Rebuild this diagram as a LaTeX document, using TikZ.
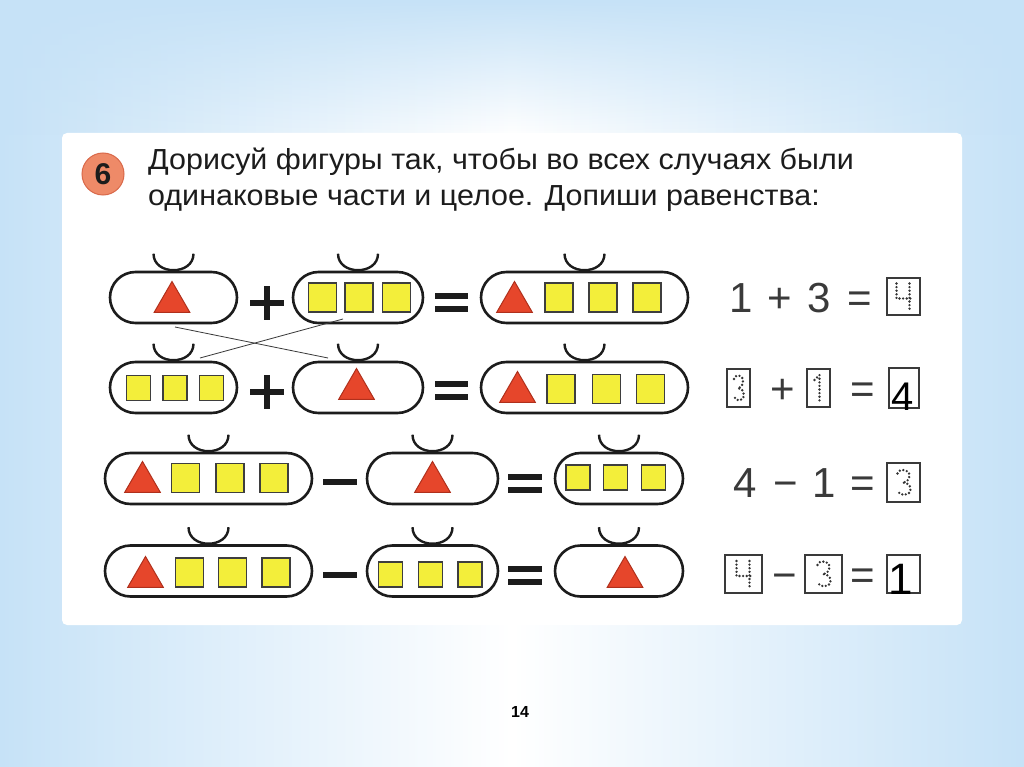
\documentclass[tikz,border=0pt]{standalone}
\usepackage{fontspec}
\setmainfont{Liberation Sans}
\newfontfamily\titlefont[FakeStretch=1.05]{Liberation Sans}
\usetikzlibrary{calc,shapes.geometric,shapes.misc,fadings}
\definecolor{bgblue}{HTML}{C6E2F7}
\definecolor{badgefill}{HTML}{EE8A68}
\definecolor{badgerim}{HTML}{D9694A}
\definecolor{trired}{HTML}{E6462B}
\definecolor{triedge}{HTML}{B0301C}
\definecolor{sqyellow}{HTML}{F3EE3A}
\definecolor{ink}{HTML}{1C1C1C}
\definecolor{printgray}{HTML}{3A3A3A}
\tikzset{
  x=1pt,y=-1pt,
  capsule/.style={rounded rectangle,draw=ink,line width=2.6pt,
    minimum height=51pt,inner sep=0pt},
  smile/.style={draw=ink,line width=2.4pt},
  tri/.style={regular polygon,regular polygon sides=3,fill=trired,
    draw=triedge,line width=1pt,minimum size=41pt,inner sep=0pt},
  sq/.style={rectangle,fill=sqyellow,draw=ink!85,line width=1.5pt,
    minimum width=28pt,minimum height=29pt,inner sep=0pt},
  sqs/.style={sq,minimum width=24pt,minimum height=25pt},
  opbar/.style={ink,line width=6pt},
  eqtxt/.style={font=\fontsize{42}{42}\selectfont,text=printgray,
    inner sep=0pt,anchor=base},
  ansbox/.style={draw=printgray,line width=1.3pt,inner sep=0pt,
    minimum width=33pt,minimum height=37pt},
  ansdig/.style={font=\fontsize{40}{40}\selectfont,text=black,
    inner sep=0pt,anchor=base},
  tracedig/.style={ink!90,line width=2.6pt,line cap=round,
    dash pattern=on 0pt off 3.6pt},
  crossline/.style={printgray,line width=0.8pt},
  titletxt/.style={anchor=base west,inner sep=0pt,text=ink,
    font=\titlefont\fontsize{29}{35}\selectfont},
}

\begin{document}
\begin{tikzpicture}
  % slide background and page
  \fill[bgblue] (0,0) rectangle (1024,767);
  \shade[left color=bgblue,right color=bgblue,middle color=white] (0,0) rectangle (1024,767);
  \fill[bgblue,path fading=south] (0,0) rectangle (1024,135);
  \fill[white,rounded corners=5pt] (62,133) rectangle (962,625);

  % task header
  \node[circle,fill=badgefill,draw=badgerim,line width=1pt,minimum size=42pt,
    inner sep=0pt,text=ink,font=\bfseries\fontsize{30}{30}\selectfont] (num) at (103,174) {6};
  \node[titletxt] (ttl1) at (148,170) {Дорисуй фигуры так, чтобы во всех случаях были};
  \node[titletxt] (ttl2) at (148,206) {одинаковые части и целое. Допиши равенства:};

  % row 1
  \node[capsule,minimum width=127pt] (c1a) at (173.5,297.5) {};
  \node[capsule,minimum width=130pt] (c1b) at (358,297.5) {};
  \node[capsule,minimum width=207pt] (c1c) at (584.5,297.5) {};
  \node[tri] (t1a) at (172,302) {};
  \foreach \x [count=\i] in {322.5,359,396.5} \node[sq] (s1b\i) at (\x,297.5) {};
  \node[tri] (t1c) at (514.5,302) {};
  \foreach \x [count=\i] in {559,603,647} \node[sq] (s1c\i) at (\x,297.5) {};
  \draw[opbar] (250,303) -- (284,303) (267,286) -- (267,320);
  \draw[opbar] (435,295.5) -- (468,295.5) (435,308.5) -- (468,308.5);

  % row 2
  \node[capsule,minimum width=127pt] (c2a) at (173.5,387.5) {};
  \node[capsule,minimum width=130pt] (c2b) at (358,387.5) {};
  \node[capsule,minimum width=207pt] (c2c) at (584.5,387.5) {};
  \foreach \x [count=\i] in {138.5,175,211.5} \node[sqs] (s2a\i) at (\x,388) {};
  \node[tri] (t2b) at (356.5,389) {};
  \node[tri] (t2c) at (517.5,392) {};
  \foreach \x [count=\i] in {561,606.5,650.5} \node[sq] (s2c\i) at (\x,389) {};
  \draw[opbar] (250,392) -- (284,392) (267,375) -- (267,409);
  \draw[opbar] (435,383.5) -- (468,383.5) (435,396.5) -- (468,396.5);

  % row 3
  \node[capsule,minimum width=207pt] (c3a) at (208.5,478.5) {};
  \node[capsule,minimum width=131pt] (c3b) at (432.5,478.5) {};
  \node[capsule,minimum width=128pt] (c3c) at (619,478.5) {};
  \node[tri] (t3a) at (142.5,482) {};
  \foreach \x [count=\i] in {185.5,230,274} \node[sq] (s3a\i) at (\x,478) {};
  \node[tri] (t3b) at (432.5,482) {};
  \foreach \x [count=\i] in {578,615.5,653.5} \node[sqs] (s3c\i) at (\x,477.5) {};
  \draw[opbar] (323,482) -- (357,482);
  \draw[opbar] (508,476.5) -- (542,476.5) (508,489.5) -- (542,489.5);

  % row 4
  \node[capsule,minimum width=207pt] (c4a) at (208.5,571) {};
  \node[capsule,minimum width=131pt] (c4b) at (432.5,571) {};
  \node[capsule,minimum width=128pt] (c4c) at (619,571) {};
  \node[tri] (t4a) at (145.5,577) {};
  \foreach \x [count=\i] in {189.5,232.5,276} \node[sq] (s4a\i) at (\x,572.5) {};
  \foreach \x [count=\i] in {390.5,430.5,470} \node[sqs] (s4b\i) at (\x,574.5) {};
  \node[tri] (t4c) at (625,577) {};
  \draw[opbar] (323,575) -- (357,575);
  \draw[opbar] (508,568.5) -- (542,568.5) (508,581.5) -- (542,581.5);

  % handles on top of every part
  \foreach \c in {c1a,c1b,c1c,c2a,c2b,c2c,c3a,c3b,c3c,c4a,c4b,c4c}
    \draw[smile] ($(\c.north)+(-20,-17)$) .. controls +(0,22) and +(0,22) .. ($(\c.north)+(20,-17)$);

  % pencil lines between rows 1 and 2
  \coordinate (xa) at (175,327);
  \coordinate (xb) at (328,358);
  \coordinate (xc) at (343,319);
  \coordinate (xd) at (200,358);
  \draw[crossline] (xa) -- (xb);
  \draw[crossline] (xc) -- (xd);

  % equalities
  \node[eqtxt] (e1a) at (741,312) {1};
  \node[eqtxt] (e1b) at (780,312) {+};
  \node[eqtxt] (e1c) at (819,312) {3};
  \node[eqtxt] (e1d) at (860,312) {=};
  \node[ansbox] (b14) at (903.5,296.5) {};
  \draw[tracedig,shift={(b14.center)}] (-7,-13) -- (-7,2) -- (7,2) (6,-13) -- (6,15);

  \node[ansbox,minimum width=23pt,minimum height=38pt] (b21) at (738.5,388) {};
  \draw[tracedig,shift={(b21.center)},xscale=0.75] (-6,-9) .. controls (-5,-14) and (6,-14) .. (6,-7)
    .. controls (6,-2) and (2,0) .. (-1,0) .. controls (3,0) and (7,2) .. (7,7)
    .. controls (7,14) and (-5,14) .. (-6,8);
  \node[eqtxt] (e2b) at (783,403) {+};
  \node[ansbox,minimum width=23pt,minimum height=38pt] (b22) at (818.5,388) {};
  \draw[tracedig,shift={(b22.center)}] (-4,-8) -- (1,-13) -- (1,14);
  \node[eqtxt] (e2d) at (863,403) {=};
  \node[ansbox,minimum width=30pt,minimum height=40pt] (b23) at (904,388) {};
  \node[ansdig] (a23) at (903,410) {4};

  \node[eqtxt] (e3a) at (745,497) {4};
  \node[eqtxt] (e3b) at (786,497) {−};
  \node[eqtxt] (e3c) at (824,497) {1};
  \node[eqtxt] (e3d) at (863,497) {=};
  \node[ansbox,minimum height=39pt] (b34) at (903.5,482.5) {};
  \draw[tracedig,shift={(b34.center)}] (-6,-9) .. controls (-5,-14) and (6,-14) .. (6,-7)
    .. controls (6,-2) and (2,0) .. (-1,0) .. controls (3,0) and (7,2) .. (7,7)
    .. controls (7,14) and (-5,14) .. (-6,8);

  \node[ansbox,minimum width=37pt,minimum height=38pt] (b41) at (743.5,574) {};
  \draw[tracedig,shift={(b41.center)}] (-7,-13) -- (-7,2) -- (7,2) (6,-13) -- (6,15);
  \node[eqtxt] (e4b) at (785,589) {−};
  \node[ansbox,minimum width=37pt,minimum height=38pt] (b42) at (823.5,574) {};
  \draw[tracedig,shift={(b42.center)}] (-6,-9) .. controls (-5,-14) and (6,-14) .. (6,-7)
    .. controls (6,-2) and (2,0) .. (-1,0) .. controls (3,0) and (7,2) .. (7,7)
    .. controls (7,14) and (-5,14) .. (-6,8);
  \node[eqtxt] (e4d) at (863,589) {=};
  \node[ansbox,minimum height=38pt] (b43) at (903.5,574) {};
  \node[ansdig,font=\fontsize{44}{44}\selectfont] (a43) at (901,594) {1};

  % page number
  \node[font=\bfseries\fontsize{16}{16}\selectfont] (pg) at (520,712) {14};
\end{tikzpicture}
\end{document}
